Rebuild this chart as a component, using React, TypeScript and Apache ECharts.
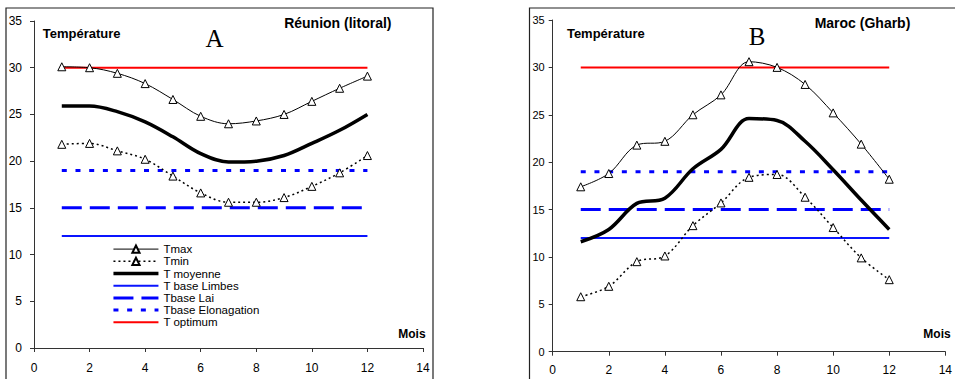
import React, { useEffect, useRef } from "react";
import * as echarts from "echarts";

const months = [1, 2, 3, 4, 5, 6, 7, 8, 9, 10, 11, 12];
const xTicks = [0, 2, 4, 6, 8, 10, 12, 14];
const yTicks = [0, 5, 10, 15, 20, 25, 30, 35];

const tmaxA = [30.1, 30.0, 29.4, 28.3, 26.6, 24.8, 24.0, 24.3, 25.0, 26.4, 27.8, 29.1];
const tminA = [21.8, 21.9, 21.1, 20.2, 18.4, 16.6, 15.6, 15.6, 16.1, 17.3, 18.75, 20.6];
const tmoyA = [25.9, 25.9, 25.3, 24.2, 22.6, 20.8, 19.9, 20.0, 20.6, 21.9, 23.3, 25.0];

const tmaxB = [17.4, 18.8, 21.8, 22.2, 25.0, 27.1, 30.6, 30.0, 28.2, 25.2, 21.9, 18.2];
const tminB = [5.8, 6.9, 9.5, 10.1, 13.3, 15.7, 18.4, 18.7, 16.3, 13.1, 9.9, 7.6];
const tmoyB = [11.6, 12.9, 15.65, 16.2, 19.3, 21.35, 24.6, 24.4, 22.2, 19.2, 16.0, 12.9];

const tBaseLimbes = 12;
const tBaseLai = 15;
const tBaseElong = 19;
const tOptimum = 30;

const seriesNames = [
  "Tmax",
  "Tmin",
  "T moyenne",
  "T base Limbes",
  "Tbase Lai",
  "Tbase Elonagation",
  "T optimum",
];
const withMarkers = ["Tmax", "Tmin"];

const FONT = "Liberation Sans, Arial, sans-serif";

function pairs(xs: number[], ys: number[]) {
  return xs.map((x, i) => [x, ys[i]]);
}
function hline(v: number) {
  return [
    [months[0], v],
    [months[months.length - 1], v],
  ];
}

function buildSeries(idx: number, tmax: number[], tmin: number[], tmoy: number[]) {
  const base = { type: "line", xAxisIndex: idx, yAxisIndex: idx, silent: true };
  return [
    {
      ...base,
      name: seriesNames[0],
      data: pairs(months, tmax),
      smooth: 0.35,
      symbol: "triangle",
      symbolSize: 8,
      itemStyle: { color: "#fff", borderColor: "#000", borderWidth: 1 },
      lineStyle: { color: "#000", width: 1 },
      z: 5,
    },
    {
      ...base,
      name: seriesNames[1],
      data: pairs(months, tmin),
      smooth: 0.35,
      symbol: "triangle",
      symbolSize: 8,
      itemStyle: { color: "#fff", borderColor: "#000", borderWidth: 1 },
      lineStyle: { color: "#000", width: 1.5, type: [2, 3] },
      z: 5,
    },
    {
      ...base,
      name: seriesNames[2],
      data: pairs(months, tmoy),
      smooth: 0.35,
      showSymbol: false,
      symbol: "none",
      lineStyle: { color: "#000", width: 3.5 },
      itemStyle: { color: "#000" },
      z: 4,
    },
    {
      ...base,
      name: seriesNames[3],
      data: hline(tBaseLimbes),
      symbol: "none",
      lineStyle: { color: "#0a14ff", width: 2 },
      itemStyle: { color: "#0a14ff" },
      z: 3,
    },
    {
      ...base,
      name: seriesNames[4],
      data: hline(tBaseLai),
      symbol: "none",
      lineStyle: { color: "#0000ff", width: 3, type: [20, 8] },
      itemStyle: { color: "#0000ff" },
      z: 3,
    },
    {
      ...base,
      name: seriesNames[5],
      data: hline(tBaseElong),
      symbol: "none",
      lineStyle: { color: "#0000ff", width: 3, type: [5, 8.7] },
      itemStyle: { color: "#0000ff" },
      z: 3,
    },
    {
      ...base,
      name: seriesNames[6],
      data: hline(tOptimum),
      symbol: "none",
      lineStyle: { color: "#ff0000", width: 2 },
      itemStyle: { color: "#ff0000" },
      z: 3,
    },
  ];
}

function axisPair(idx: number, yFont: number, yMargin: number, xMargin: number) {
  const common = {
    gridIndex: idx,
    type: "value",
    splitLine: { show: false },
    axisLine: { show: true, lineStyle: { color: "#333", width: 1 } },
    axisTick: { show: true, length: 4, lineStyle: { color: "#333" } },
  };
  return {
    x: {
      ...common,
      min: xTicks[0],
      max: xTicks[xTicks.length - 1],
      interval: xTicks[1] - xTicks[0],
      axisLabel: { color: "#000", fontSize: 12, fontFamily: FONT, margin: xMargin },
    },
    y: {
      ...common,
      min: yTicks[0],
      max: yTicks[yTicks.length - 1],
      interval: yTicks[1] - yTicks[0],
      axisLabel: { color: "#000", fontSize: yFont, fontFamily: FONT, margin: yMargin },
    },
  };
}

function txt(x: number, y: number, text: string, size: number, bold: boolean, serif = false) {
  return {
    type: "text",
    x,
    y,
    silent: true,
    z: 10,
    style: {
      text,
      fill: "#000",
      font: `${bold ? "bold " : ""}${size}px ${serif ? "Liberation Serif, Times New Roman, serif" : FONT}`,
      align: "center",
      verticalAlign: "middle",
    },
  };
}

export default function App() {
  const ref = useRef<HTMLDivElement>(null);
  useEffect(() => {
    if (!ref.current) return;
    const chart = echarts.init(ref.current, null, { renderer: "svg" });
    const a0 = axisPair(0, 12, 12, 14);
    const a1 = axisPair(1, 11, 8, 12);
    chart.setOption({
      animation: false,
      backgroundColor: "#fff",
      grid: [
        { left: 34, top: 21, width: 389, height: 327, containLabel: false },
        { left: 552.7, top: 20, width: 396, height: 331.7, containLabel: false },
      ],
      xAxis: [a0.x, a1.x],
      yAxis: [a0.y, a1.y],
      legend: {
        data: seriesNames.map((n) =>
          withMarkers.includes(n) ? { name: n } : { name: n, itemStyle: { opacity: 0 } }
        ),
        orient: "vertical",
        left: 111.7,
        top: 243,
        itemWidth: 45,
        itemHeight: 9,
        itemGap: 0,
        padding: 0,
        selectedMode: false,
        lineStyle: { width: "inherit" },
        textStyle: { fontSize: 11.5, fontFamily: FONT, color: "#000", lineHeight: 12.2 },
      },
      graphic: [
        {
          type: "rect",
          shape: { x: 6, y: 8, width: 427, height: 400 },
          style: { fill: "none", stroke: "#222", lineWidth: 1.2 },
          silent: true,
        },
        {
          type: "rect",
          shape: { x: 529.5, y: 8, width: 440, height: 400 },
          style: { fill: "none", stroke: "#222", lineWidth: 1.2 },
          silent: true,
        },
        txt(81.7, 33.3, "Température", 13, true),
        txt(337.8, 23.3, "Réunion (litoral)", 14, true),
        txt(214.5, 38, "A", 25, false, true),
        txt(411.9, 334.3, "Mois", 12, true),
        txt(605.8, 33.7, "Température", 13, true),
        txt(862.5, 23.3, "Maroc (Gharb)", 14, true),
        txt(757, 36, "B", 25, false, true),
        txt(937, 334.3, "Mois", 12, true),
      ],
      series: [...buildSeries(0, tmaxA, tminA, tmoyA), ...buildSeries(1, tmaxB, tminB, tmoyB)],
    });
    return () => chart.dispose();
  }, []);
  return (
    <div
      ref={ref}
      style={{ position: "fixed", left: 0, top: 0, width: 955, height: 379, background: "#fff" }}
    />
  );
}
